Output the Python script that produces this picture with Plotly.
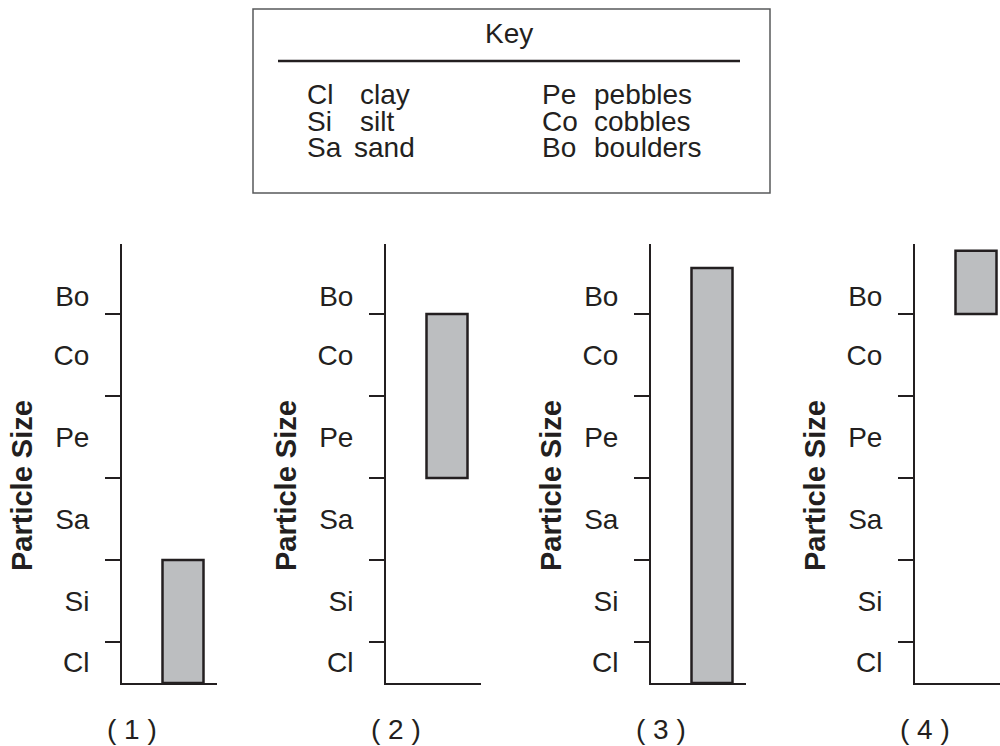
import plotly.graph_objects as go

# ---------------- data ----------------
categories = ["Cl", "Si", "Sa", "Pe", "Co", "Bo"]
category_names = ["clay", "silt", "sand", "pebbles", "cobbles", "boulders"]
# category label positions on the size scale (boundaries are at 1..5)
label_positions = [0.75, 1.5, 2.5, 3.5, 4.5, 5.22]
boundaries = [1, 2, 3, 4, 5]
panel_labels = ["( 1 )", "( 2 )", "( 3 )", "( 4 )"]
bar_low = [0.5, 3.0, 0.5, 5.0]
bar_high = [2.0, 5.0, 5.56, 5.77]

W, H = 1000, 746
INK = "#231f20"
FONT = "Liberation Sans, Arial, Helvetica, sans-serif"
FS = 28

def px(x):
    return x / W

def py(y):
    return 1 - y / H

fig = go.Figure()

axis_x = [122, 386, 651, 915]
panel_w = [95, 95, 95, 85]
bar_center_off = 61.0
bar_px = 41.0
unit = bar_px / 0.8

y_dom = [py(683), py(244.3)]

for i in range(4):
    n = "" if i == 0 else str(i + 1)
    xa = "x" + n
    ya = "y" + n
    fig.add_trace(go.Bar(
        x=[0], y=[bar_high[i] - bar_low[i]], base=[bar_low[i]], width=[0.8],
        xaxis=xa, yaxis=ya,
        marker=dict(color="#bcbec0", line=dict(color=INK, width=2.5)),
        showlegend=False, hoverinfo="skip"))
    x0 = axis_x[i]
    x1 = axis_x[i] + panel_w[i]
    rng = [-bar_center_off / unit, (panel_w[i] - bar_center_off) / unit]
    fig.layout["xaxis" + n] = dict(
        domain=[px(x0), min(px(x1), 1.0)], range=rng, anchor=ya,
        showline=True, linecolor=INK, linewidth=2, showticklabels=False,
        ticks="", showgrid=False, zeroline=False, fixedrange=True)
    fig.layout["yaxis" + n] = dict(
        domain=y_dom, range=[0.5, 5.85], anchor=xa,
        showline=True, linecolor=INK, linewidth=2, showgrid=False, zeroline=False,
        tickmode="array", tickvals=label_positions, ticktext=categories, ticks="",
        ticklabelstandoff=25,
        tickfont=dict(family=FONT, size=FS, color=INK),
        minor=dict(tickmode="array", tickvals=boundaries, ticks="outside",
                   ticklen=15, tickwidth=2, tickcolor=INK, showgrid=False),
        fixedrange=True)
    fig.add_annotation(
        x=px(x0 - 100), y=py(486), xref="paper", yref="paper",
        text="<b>Particle Size</b>", textangle=-90, showarrow=False,
        font=dict(family=FONT, size=29, color=INK), xanchor="center", yanchor="middle")
    fig.add_annotation(
        x=px(x0 + 10), y=py(729), xref="paper", yref="paper",
        text=panel_labels[i], showarrow=False,
        font=dict(family=FONT, size=FS, color=INK), xanchor="center", yanchor="middle")

# ---------------- key box ----------------
fig.add_shape(type="rect", xref="paper", yref="paper",
              x0=px(253), x1=px(770), y0=py(193), y1=py(9),
              line=dict(color="#58595b", width=1.5), fillcolor="rgba(0,0,0,0)")
fig.add_shape(type="line", xref="paper", yref="paper",
              x0=px(278), x1=px(740), y0=py(61), y1=py(61),
              line=dict(color=INK, width=2.5))
fig.add_annotation(x=px(509), y=py(33), xref="paper", yref="paper", text="Key",
                   showarrow=False, font=dict(family=FONT, size=FS, color=INK),
                   xanchor="center", yanchor="middle")
rows_y = [95, 121, 147]
code_xs = [305, 305, 305, 540, 540, 540]
name_xs = [358, 358, 352, 592, 592, 592]
for k in range(6):
    r = k % 3
    fig.add_annotation(x=px(code_xs[k]), y=py(rows_y[r]), xref="paper", yref="paper",
                       text=categories[k], showarrow=False,
                       font=dict(family=FONT, size=FS, color=INK),
                       xanchor="left", yanchor="middle")
    fig.add_annotation(x=px(name_xs[k]), y=py(rows_y[r]), xref="paper", yref="paper",
                       text=category_names[k], showarrow=False,
                       font=dict(family=FONT, size=FS, color=INK),
                       xanchor="left", yanchor="middle")

fig.update_layout(width=W, height=H, margin=dict(l=0, r=0, t=0, b=0),
                  paper_bgcolor="white", plot_bgcolor="white", bargap=0.2)

fig.write_html("out.html", config={"displayModeBar": False},
               post_script="document.body.style.margin='0';")
